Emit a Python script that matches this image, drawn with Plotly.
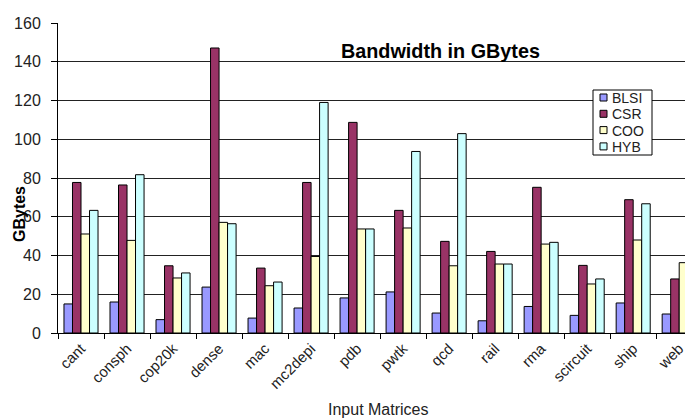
import plotly.graph_objects as go

categories = ["cant", "consph", "cop20k", "dense", "mac", "mc2depi", "pdb",
              "pwtk", "qcd", "rail", "rma", "scircuit", "ship", "web"]
blsi = [15.0, 16.0, 6.9, 23.7, 7.7, 12.9, 18.1, 21.2, 10.3, 6.3, 13.7, 9.1, 15.5, 9.8]
csr = [77.7, 76.4, 34.7, 147.1, 33.5, 77.7, 108.7, 63.3, 47.3, 42.1, 75.2, 34.9, 68.8, 27.9]
coo = [51.1, 47.8, 28.4, 57.1, 24.4, 39.5, 53.7, 54.2, 34.7, 35.6, 45.9, 25.3, 48.0, 36.3]
hyb = [63.3, 81.7, 31.0, 56.4, 26.3, 119.0, 53.7, 93.7, 102.9, 35.6, 46.8, 27.9, 66.7, 53.2]

series_names = ["BLSI", "CSR", "COO", "HYB"]
series_values = [blsi, csr, coo, hyb]
series_colors = ["#9999FF", "#993366", "#FFFFCC", "#CCFFFF"]

FONT = "Liberation Sans, Arial, sans-serif"

# page offset (browser body margin) compensation: plot area spans page px 58..693 x 23..333
PL, PR, PT, PB = 58.0, 693.0, 23.0, 333.0


def px(x):
    return (x - PL) / (PR - PL)


def py(y):
    return (PB - y) / (PB - PT)


fig = go.Figure()
for name, vals, color in zip(series_names, series_values, series_colors):
    fig.add_trace(go.Bar(x=categories, y=vals, name=name, showlegend=False,
                         marker=dict(color=color, line=dict(color="black", width=1))))

shapes = [dict(type="rect", xref="paper", yref="paper",
               x0=px(593), x1=px(652), y0=py(155), y1=py(90),
               line=dict(color="black", width=1), fillcolor="white", layer="above")]
annotations = []
for i, (name, color) in enumerate(zip(series_names, series_colors)):
    cy = 97.5 + i * 16.3
    shapes.append(dict(type="rect", xref="paper", yref="paper",
                       x0=px(600), x1=px(607), y0=py(cy + 3.5), y1=py(cy - 3.5),
                       line=dict(color="black", width=1), fillcolor=color, layer="above"))
    annotations.append(dict(text=name, xref="paper", yref="paper", x=px(610), y=py(cy + 0.5),
                            xanchor="left", yanchor="middle", showarrow=False,
                            font=dict(size=14, family=FONT, color="#222")))

annotations += [
    dict(text="<b>Bandwidth in GBytes</b>", xref="paper", yref="paper",
         x=px(440), y=py(51), xanchor="center", yanchor="middle",
         showarrow=False, font=dict(size=19.8, family=FONT, color="black")),
    dict(text="<b>GBytes</b>", xref="paper", yref="paper",
         x=px(19), y=py(214), xanchor="center", yanchor="middle",
         textangle=-90, showarrow=False, font=dict(size=16, family=FONT, color="black")),
    dict(text="Input Matrices", xref="paper", yref="paper",
         x=px(378), y=py(409), xanchor="center", yanchor="middle",
         showarrow=False, font=dict(size=16, family=FONT, color="#222")),
]

fig.update_layout(
    width=685, height=410,
    margin=dict(l=50, r=0, t=15, b=85),
    paper_bgcolor="white", plot_bgcolor="white",
    barmode="group", bargap=0.26, bargroupgap=0,
    font=dict(family=FONT, color="#222", size=14),
    showlegend=False,
    xaxis=dict(range=[-0.5, 13.3], tickangle=-45, showline=True, linecolor="black",
               linewidth=1, ticks="outside", tickson="boundaries", ticklen=5,
               tickcolor="black", tickfont=dict(size=15, family=FONT), showgrid=False),
    yaxis=dict(range=[0, 160], dtick=20, showline=True, linecolor="black", linewidth=1,
               ticks="outside", ticklen=6, tickcolor="black", ticklabelstandoff=7,
               gridcolor="#222", gridwidth=1, tickfont=dict(size=16, family=FONT),
               zeroline=False),
    shapes=shapes,
    annotations=annotations,
)

fig.write_html("out.html")
